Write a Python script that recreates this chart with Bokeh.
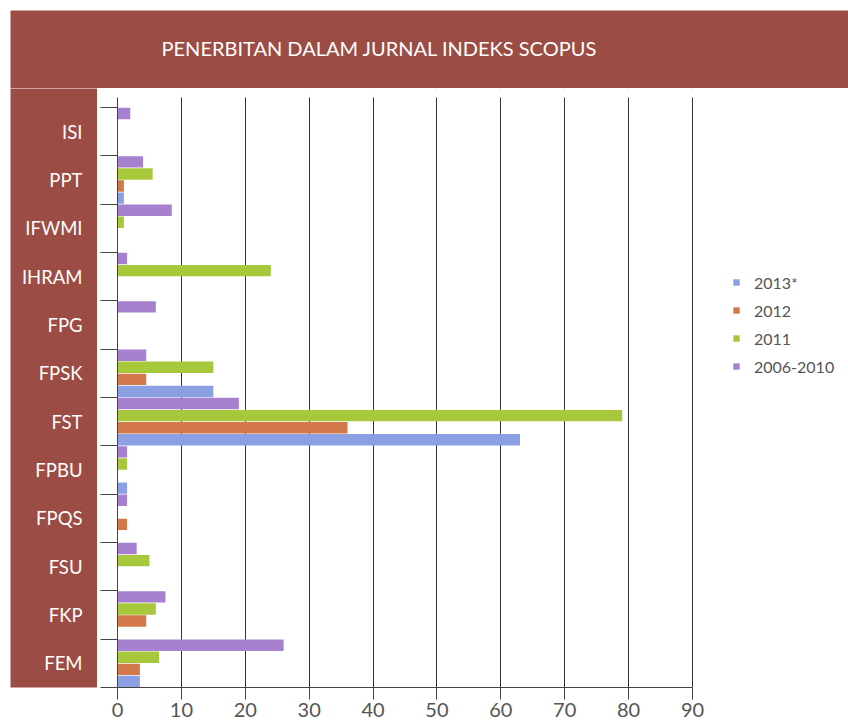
from bokeh.plotting import figure
from bokeh.layouts import column, row
from bokeh.models import FixedTicker, Legend, LegendItem, ColumnDataSource
from bokeh.core.properties import value
from bokeh.embed import file_html
from bokeh.resources import INLINE

# ---- data (top to bottom as in the chart) ----
categories = ["ISI", "PPT", "IFWMI", "IHRAM", "FPG", "FPSK", "FST", "FPBU", "FPQS", "FSU", "FKP", "FEM"]
s2006_2010 = [2, 4, 8.5, 1.5, 6, 4.5, 19, 1.5, 1.5, 3, 7.5, 26]
s2011 = [0, 5.5, 1, 24, 0, 15, 79, 1.5, 0, 5, 6, 6.5]
s2012 = [0, 1, 0, 0, 0, 4.5, 36, 0, 1.5, 0, 4.5, 3.5]
s2013 = [0, 1, 0, 0, 0, 15, 63, 1.5, 0, 0, 0, 3.5]
series_labels = ["2006-2010", "2011", "2012", "2013*"]
x_ticks = [0, 10, 20, 30, 40, 50, 60, 70, 80, 90]
chart_title = "PENERBITAN DALAM JURNAL INDEKS SCOPUS"

# ---- styling / layout constants (pixels) ----
RED = "#9b4c44"
COLORS = {"2006-2010": "#a581cf", "2011": "#a8c83c", "2012": "#d2784a", "2013*": "#8b9fe3"}
OFFSETS = {"2006-2010": 0.375, "2011": 0.125, "2012": -0.125, "2013*": -0.375}
FONT = "Lato"
W, H = 848, 726
HEAD_H = 88           # header band bottom
COL_W = 97            # red column right edge (incl. 10px white margin)
AXIS_X = 117          # x = 0 on the page
GRID_TOP = 97         # where the vertical grid lines start
AXIS_Y = 687          # bottom axis on the page
px_per_unit = (692 - AXIS_X) / 90.0

n = len(categories)
centers = [n - 1 - i for i in range(n)]
boundaries = [c - 0.5 for c in range(n)] + [n - 0.5]
band_px = (AXIS_Y - 107) / float(n)

# ---------------- header ----------------
head = figure(width=W, height=HEAD_H, x_range=(0, W - 10), y_range=(0, HEAD_H - 10),
              x_axis_type=None, y_axis_type=None, output_backend="svg", toolbar_location=None,
              min_border_left=10, min_border_top=10, min_border_right=0, min_border_bottom=0)
head.background_fill_color = RED
head.border_fill_color = "white"
head.outline_line_color = None
head.grid.visible = False
head.text(x=[379 - 10], y=[HEAD_H - 47], text=[chart_title], text_align="center",
          text_baseline="middle", text_color="white", text_font=value(FONT),
          text_font_size="20px")

# ---------------- main chart ----------------
main_w = W - COL_W
main_h = H - HEAD_H
frame_w = W - AXIS_X
frame_h = AXIS_Y - HEAD_H
x_end = frame_w / px_per_unit
y_end = -0.5 + frame_h / band_px
y_grid_top = -0.5 + (AXIS_Y - GRID_TOP) / band_px

p = figure(width=main_w, height=main_h, x_range=(0, x_end), y_range=(-0.5, y_end),
           output_backend="svg", toolbar_location=None,
           min_border_left=AXIS_X - COL_W, min_border_right=0,
           min_border_top=0, min_border_bottom=H - AXIS_Y)
p.background_fill_color = "white"
p.border_fill_color = "white"
p.outline_line_color = None

# white strip above the grid (grid lines start a little below the header)
p.quad(left=[0], right=[x_end], bottom=[y_grid_top], top=[y_end], fill_color="white",
       line_color=None)

series_values = {"2006-2010": s2006_2010, "2011": s2011, "2012": s2012, "2013*": s2013}
renderers = {}
for name in series_labels:
    src = ColumnDataSource(dict(y=[c + OFFSETS[name] for c in centers], v=series_values[name],
                                cat=categories))
    renderers[name] = p.hbar(y="y", left=0, right="v", height=0.235, source=src,
                             fill_color=COLORS[name], line_color=None)

p.ygrid.visible = False
p.xgrid.ticker = FixedTicker(ticks=x_ticks)
p.xgrid.grid_line_color = "#333333"
p.xgrid.grid_line_width = 1

xa = p.xaxis[0]
xa.ticker = FixedTicker(ticks=x_ticks)
xa.bounds = (0, 90)
xa.axis_line_color = "#444444"
xa.major_tick_line_color = "#444444"
xa.major_tick_in = 0
xa.major_tick_out = 12
xa.minor_tick_line_color = None
xa.major_label_standoff = 3
xa.major_label_text_font = FONT
xa.major_label_text_font_size = "20px"
xa.major_label_text_color = "#555555"

ya = p.yaxis[0]
ya.ticker = FixedTicker(ticks=[], minor_ticks=boundaries)
ya.bounds = (-0.5, y_grid_top)
ya.axis_line_color = "#444444"
ya.major_tick_line_color = None
ya.major_tick_out = 0
ya.minor_tick_line_color = "#444444"
ya.minor_tick_in = 0
ya.minor_tick_out = 17

legend = Legend(items=[LegendItem(label=nm, renderers=[renderers[nm]])
                       for nm in ["2013*", "2012", "2011", "2006-2010"]],
                location=(615, 311), glyph_width=8, glyph_height=8, label_standoff=14,
                spacing=8, label_height=20, padding=10, border_line_color=None,
                background_fill_alpha=0, label_text_font=FONT, label_text_font_size="16px",
                label_text_color="#555555")
p.add_layout(legend)

# ---------------- red column with category labels ----------------
col_frame_h = AXIS_Y - HEAD_H
side = figure(width=COL_W, height=main_h, x_range=(0, COL_W - 10),
              y_range=(-0.5, -0.5 + col_frame_h / band_px),
              x_axis_type=None, y_axis_type=None, output_backend="svg", toolbar_location=None,
              min_border_left=10, min_border_right=0, min_border_top=0,
              min_border_bottom=H - AXIS_Y)
side.background_fill_color = RED
side.border_fill_color = "white"
side.outline_line_color = None
side.grid.visible = False
side.text(x=[82 - 10] * n, y=centers, text=categories, text_align="right",
          text_baseline="middle", text_color="white", text_font=value(FONT),
          text_font_size="18.5px")

layout = column(head, row(side, p))
open("out.html", "w").write(file_html(layout, INLINE))
